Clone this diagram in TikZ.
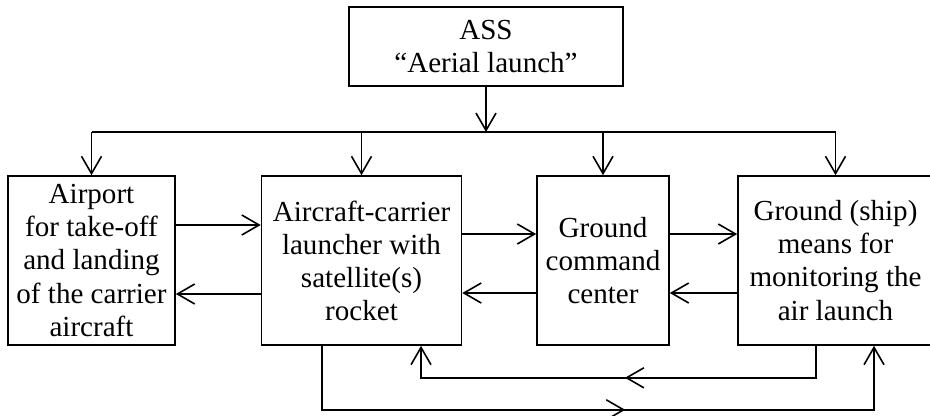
\documentclass[tikz,border=0pt]{standalone}
\usepackage{fontspec}
\setmainfont{Liberation Serif}
\usetikzlibrary{arrows.meta,calc,decorations.markings}
\tikzset{
  blk/.style={draw, line width=1.2pt, align=center, inner sep=1pt,
    font=\fontsize{21.8}{24.8}\selectfont},
  link/.style={line width=1.2pt, -{Straight Barb[length=13pt,width=15pt]}},
  midarrow/.style={postaction={decorate}, decoration={markings,
    mark=at position #1 with {\arrow{Straight Barb[length=13pt,width=15pt]}}}}
}

\begin{document}
\begin{tikzpicture}[x=0.75pt,y=-0.75pt]
\useasboundingbox (0,0) rectangle (930,415);
\node[blk, minimum width=205.5pt, minimum height=59.25pt] (ass) at (486,46.5) {ASS\\“Aerial launch”};
\node[blk, minimum width=125.25pt, minimum height=126.75pt] (port) at (91.5,260.5) {Airport\\for take-off\\and landing\\of the carrier\\aircraft};
\node[blk, minimum width=150pt, minimum height=126.75pt] (craft) at (361.5,260.5) {Aircraft-carrier\\launcher with\\satellite(s)\\rocket};
\node[blk, minimum width=99pt, minimum height=126.75pt] (gcc) at (603,260.5) {Ground\\command\\center};
\node[blk, minimum width=146.25pt, minimum height=126.75pt] (ship) at (835.5,260.5) {Ground (ship)\\means for\\monitoring the\\air launch};
\coordinate (bus) at (486,132);
\draw[link] (ass.south) -- (bus);
\draw[line width=1.2pt] (port.north |- bus) -- (ship.north |- bus);
\foreach \n in {port,craft,gcc,ship}
  \draw[link] (\n.north |- bus) -- (\n.north);
\draw[link] ($(port.east)+(0,-35.5)$) -- ($(craft.west)+(0,-35.5)$);
\draw[link] ($(craft.west)+(0,33.5)$) -- ($(port.east)+(0,33.5)$);
\draw[link] ($(craft.east)+(0,-26.5)$) -- ($(gcc.west)+(0,-26.5)$);
\draw[link] ($(gcc.west)+(0,32.5)$) -- ($(craft.east)+(0,32.5)$);
\draw[link] ($(gcc.east)+(0,-26.5)$) -- ($(ship.west)+(0,-26.5)$);
\draw[link] ($(ship.west)+(0,32.5)$) -- ($(gcc.east)+(0,32.5)$);
\draw[link, midarrow=0.486] ($(ship.south)+(-19.5,0)$) -- ++(0,32) -| ($(craft.south)+(59.5,0)$);
\draw[link, midarrow=0.54] ($(craft.south)+(-39.5,0)$) -- ++(0,64) -| ($(ship.south)+(38.5,0)$);
\end{tikzpicture}
\end{document}
